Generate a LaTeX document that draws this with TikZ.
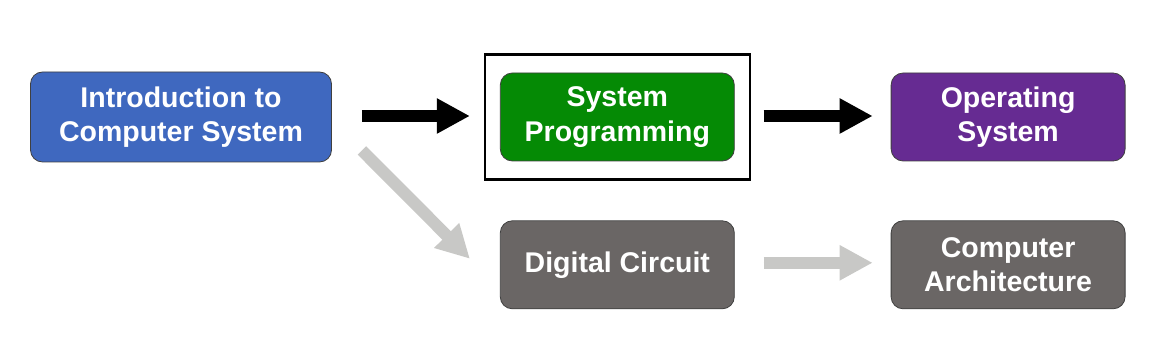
\documentclass[tikz,border=0pt]{standalone}
\usepackage{fontspec}
\setmainfont{Liberation Sans}
\usepackage{xcolor}
\usetikzlibrary{arrows.meta,positioning,calc}

\definecolor{introblue}{HTML}{3F68BF}
\definecolor{progreen}{HTML}{058A05}
\definecolor{ospurple}{HTML}{662B92}
\definecolor{hwgray}{HTML}{6A6665}
\definecolor{lightarrow}{HTML}{C8C8C6}

\begin{document}
\begin{tikzpicture}[x=1pt, y=1pt,
  font=\fontsize{28.5}{34.5}\selectfont\bfseries,
  course/.style={draw=black!75, line width=0.8pt, rounded corners=12pt, text=white,
    align=center, minimum width=234pt, minimum height=88pt, inner sep=0pt},
  bigarrow/.style={line width=12pt, -{Triangle[length=33pt,width=33pt]}}]
  \useasboundingbox (0,0) rectangle (1164,344);
  \node[course,fill=introblue,minimum width=301pt,minimum height=90pt] (intro) at (181,227) {Introduction to\\Computer System};
  \node[course,fill=progreen,right=168pt of intro] (prog) {System\\Programming};
  \node[draw,line width=2.5pt,minimum width=265pt,minimum height=125pt] (focus) at (prog) {};
  \node[course,fill=ospurple,right=156pt of prog] (os) {Operating\\System};
  \node[course,fill=hwgray,below=59pt of prog] (circuit) {Digital Circuit};
  \node[course,fill=hwgray,below=59pt of os] (arch) {Computer\\Architecture};
  \coordinate (diagstart) at ($(intro.south east)+(30,12)$);
  \coordinate (diagend) at ($(circuit.west)+(-30,6)$);
  \draw[bigarrow] ([shift={(30,1)}]intro.east) -- ([shift={(-30,1)}]prog.west);
  \draw[bigarrow] ([shift={(29,1)}]prog.east) -- ([shift={(-18,1)}]os.west);
  \draw[bigarrow,draw=lightarrow,fill=lightarrow] (diagstart) -- (diagend);
  \draw[bigarrow,draw=lightarrow,fill=lightarrow] ([shift={(29,2)}]circuit.east) -- ([shift={(-18,2)}]arch.west);
\end{tikzpicture}
\end{document}
